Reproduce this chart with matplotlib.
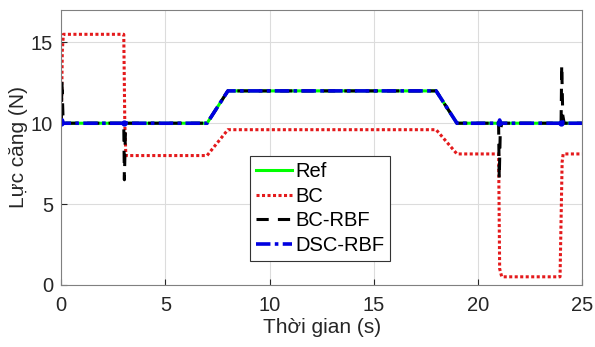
import matplotlib
matplotlib.use('Agg')
import matplotlib.pyplot as plt

plt.rcParams['font.family'] = ['Liberation Sans', 'DejaVu Sans']

# Reference tension
t_ref = [0, 7, 8, 18, 19, 25]
f_ref = [10, 10, 12, 12, 10, 10]

# BC controller
t_bc = [0, 0.05, 0.1, 3.0, 3.05, 3.1, 7, 8, 18, 19, 21, 21.05, 21.15, 23.95, 24.05, 24.1, 25]
f_bc = [10, 14.5, 15.5, 15.5, 10, 8, 8, 9.6, 9.6, 8.1, 8.1, 1.0, 0.5, 0.5, 7.6, 8.1, 8.1]

# BC-RBF controller
t_bcrbf = [0, 0.03, 0.08, 0.15, 3.0, 3.03, 3.08, 3.15, 7, 8, 18, 19, 21, 21.03, 21.08, 21.15, 24, 24.03, 24.08, 24.15, 25]
f_bcrbf = [10, 12.6, 10.5, 10, 10, 6.5, 9.5, 10, 10, 12, 12, 10, 10, 6.6, 9.5, 10, 10, 13.6, 10.5, 10, 10]

# DSC-RBF controller
t_dsc = [0, 0.05, 0.1, 3.0, 3.05, 3.1, 7, 8, 18, 19, 21, 21.05, 21.1, 24, 24.05, 24.1, 25]
f_dsc = [10, 10.2, 10, 10, 10.2, 10, 10, 12, 12, 10, 10, 10.2, 10, 10, 10.2, 10, 10]

fig, ax = plt.subplots(figsize=(5.95, 3.47), dpi=100)
fig.subplots_adjust(left=0.103, right=0.978, top=0.971, bottom=0.179)

ax.plot(t_ref, f_ref, color='#00ff00', linewidth=2.2, label='Ref')
ax.plot(t_bc, f_bc, color='#e41a1c', linestyle=(0, (1, 0.8)), linewidth=2.2, label='BC')
ax.plot(t_bcrbf, f_bcrbf, color='black', linestyle=(0, (4, 3)), linewidth=2.2, label='BC-RBF')
ax.plot(t_dsc, f_dsc, color='#0000e0', linestyle=(0, (4, 1.2, 1, 1.2)), linewidth=2.6, label='DSC-RBF')
ax.plot([0, 3, 21, 24], [10, 10, 10, 10], 'o', color='#0000e0', markersize=3.5)

ax.set_xlim(0, 25)
ax.set_ylim(0, 17)
ax.set_xticks([0, 5, 10, 15, 20, 25])
ax.set_yticks([0, 5, 10, 15])
ax.grid(True, color='#dcdcdc', linewidth=0.8)
ax.tick_params(direction='in', labelsize=14.5, colors='#262626', length=4)
ax.tick_params(axis='x', pad=8)
ax.tick_params(axis='y', pad=6)
for s in ax.spines.values():
    s.set_color('#808080')

ax.set_xlabel('Thời gian (s)', fontsize=15, color='#262626', labelpad=2)
ax.set_ylabel('Lực căng (N)', fontsize=15, color='#262626', labelpad=2)

leg = ax.legend(loc='upper left', bbox_to_anchor=(0.362, 0.469), fontsize=14.5, frameon=True,
                fancybox=False, framealpha=1, edgecolor='#333333', handlelength=1.8,
                handletextpad=0.15, borderpad=0.3, labelspacing=0.28, borderaxespad=0)
leg.get_frame().set_linewidth(0.8)

plt.savefig('out.png', dpi=100)
